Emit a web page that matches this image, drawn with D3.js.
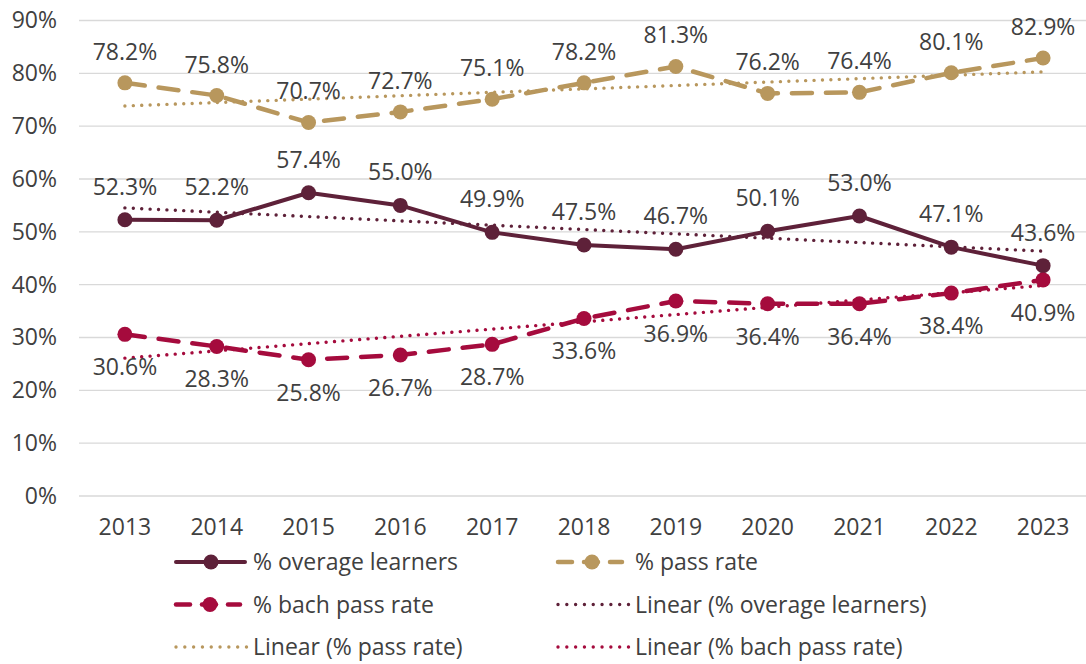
<!DOCTYPE html>
<html>
<head>
<meta charset="utf-8">
<script src="https://cdn.jsdelivr.net/npm/d3@7"></script>
<style>
body{margin:0;background:#fff;}
svg{display:block;}
text{font-family:"Open Sans",Lato,sans-serif;fill:#404040;}
</style>
</head>
<body>
<svg id="chart" width="1086" height="664"></svg>
<script>
const years = ["2013","2014","2015","2016","2017","2018","2019","2020","2021","2022","2023"];
const overage = [52.3,52.2,57.4,55.0,49.9,47.5,46.7,50.1,53.0,47.1,43.6];
const passRate = [78.2,75.8,70.7,72.7,75.1,78.2,81.3,76.2,76.4,80.1,82.9];
const bachPass = [30.6,28.3,25.8,26.7,28.7,33.6,36.9,36.4,36.4,38.4,40.9];
const yTicks = [0,10,20,30,40,50,60,70,80,90];

const FS = 23;
const svg = d3.select("#chart");
const x = d3.scaleBand().domain(years).range([79,1089]).padding(0);
const cx = d => x(d) + x.bandwidth()/2;
const y = d3.scaleLinear().domain([0,90]).range([496,20.5]);

// gridlines
svg.append("g").selectAll("line").data(yTicks).join("line")
  .attr("x1",79).attr("x2",1086)
  .attr("y1",d=>y(d)).attr("y2",d=>y(d))
  .attr("stroke","#d9d9d9").attr("stroke-width",1.3);

// y axis labels
const yAxis = d3.axisLeft(y).tickValues(yTicks).tickFormat(d=>d+"%").tickSize(0).tickPadding(0);
const ya = svg.append("g").attr("transform","translate(57,0)").call(yAxis);
ya.select(".domain").remove();
ya.selectAll("text").attr("font-size",FS).attr("fill","#404040").style("font-family","'Open Sans',Lato,sans-serif");

// x axis labels
const xAxis = d3.axisBottom(x).tickSize(0).tickPadding(0);
const xa = svg.append("g").attr("transform","translate(0,519)").call(xAxis);
xa.select(".domain").remove();
xa.selectAll("text").attr("font-size",FS).attr("fill","#404040").style("font-family","'Open Sans',Lato,sans-serif");

function regress(vals){
  const n = vals.length;
  const xs = vals.map((_,i)=>i);
  const mx = d3.mean(xs), my = d3.mean(vals);
  let sxy=0,sxx=0;
  xs.forEach((xi,i)=>{sxy+=(xi-mx)*(vals[i]-my);sxx+=(xi-mx)*(xi-mx);});
  const b = sxy/sxx, a = my-b*mx;
  return [a, a+b*(n-1)];
}

const series = [
  {name:"% overage learners", vals:overage, color:"#5e2139", dash:null, labelDy:-25, width:4},
  {name:"% pass rate", vals:passRate, color:"#b8975d", dash:"20 14", labelDy:-23, width:4.5},
  {name:"% bach pass rate", vals:bachPass, color:"#a50b3d", dash:"20 14", labelDy:41, width:4.5}
];

const line = d3.line().x((d,i)=>cx(years[i])).y(d=>y(d));

// trend lines
series.forEach(s=>{
  const [a,b] = regress(s.vals);
  svg.append("line")
    .attr("x1",cx(years[0])).attr("x2",cx(years[years.length-1]))
    .attr("y1",y(a)).attr("y2",y(b))
    .attr("stroke",s.color).attr("stroke-width",3.4)
    .attr("stroke-dasharray","0.01 8.4").attr("stroke-linecap","round");
});

// series lines
series.forEach(s=>{
  svg.append("path").datum(s.vals).attr("d",line)
    .attr("fill","none").attr("stroke",s.color).attr("stroke-width",s.width)
    .attr("stroke-linecap","round").attr("stroke-linejoin","round")
    .attr("stroke-dasharray",s.dash);
  svg.append("g").selectAll("circle").data(s.vals).join("circle")
    .attr("cx",(d,i)=>cx(years[i])).attr("cy",d=>y(d)).attr("r",7.5)
    .attr("fill",s.color);
});

// data labels
series.forEach((s,si)=>{
  svg.append("g").selectAll("text").data(s.vals).join("text")
    .attr("x",(d,i)=>cx(years[i]))
    .attr("y",d=>y(d)+s.labelDy)
    .attr("text-anchor","middle").attr("font-size",FS)
    .text(d=>d.toFixed(1)+"%");
});

// legend
const legend = [
  {name:"% overage learners", color:"#5e2139", type:"solid", col:0, row:0},
  {name:"% pass rate", color:"#b8975d", type:"dash", col:1, row:0},
  {name:"% bach pass rate", color:"#a50b3d", type:"dash", col:0, row:1},
  {name:"Linear (% overage learners)", color:"#5e2139", type:"dot", col:1, row:1},
  {name:"Linear (% pass rate)", color:"#b8975d", type:"dot", col:0, row:2},
  {name:"Linear (% bach pass rate)", color:"#a50b3d", type:"dot", col:1, row:2}
];
const colX = [176, 558];
const rowY = [562, 604.5, 647];
const lg = svg.append("g");
legend.forEach(l=>{
  const gx = colX[l.col], gy = rowY[l.row];
  const g = lg.append("g").attr("transform",`translate(${gx},${gy})`);
  if(l.type==="solid"){
    g.append("line").attr("x1",0).attr("x2",69).attr("y1",0).attr("y2",0)
      .attr("stroke",l.color).attr("stroke-width",4).attr("stroke-linecap","round");
    g.append("circle").attr("cx",35).attr("cy",0).attr("r",7.5).attr("fill",l.color);
  } else if(l.type==="dash"){
    g.append("line").attr("x1",0).attr("x2",14).attr("y1",0).attr("y2",0)
      .attr("stroke",l.color).attr("stroke-width",4.5).attr("stroke-linecap","round");
    g.append("line").attr("x1",26).attr("x2",40).attr("y1",0).attr("y2",0)
      .attr("stroke",l.color).attr("stroke-width",4.5).attr("stroke-linecap","round");
    g.append("line").attr("x1",52).attr("x2",64).attr("y1",0).attr("y2",0)
      .attr("stroke",l.color).attr("stroke-width",4.5).attr("stroke-linecap","round");
    g.append("circle").attr("cx",34).attr("cy",0).attr("r",7.5).attr("fill",l.color);
  } else {
    g.append("line").attr("x1",0).attr("x2",71).attr("y1",0).attr("y2",0)
      .attr("stroke",l.color).attr("stroke-width",3.4)
      .attr("stroke-dasharray","0.01 8.8").attr("stroke-linecap","round");
  }
  g.append("text").attr("x",77).attr("y",0).attr("dy","0.36em")
    .attr("font-size",FS).text(l.name);
});
</script>
</body>
</html>
